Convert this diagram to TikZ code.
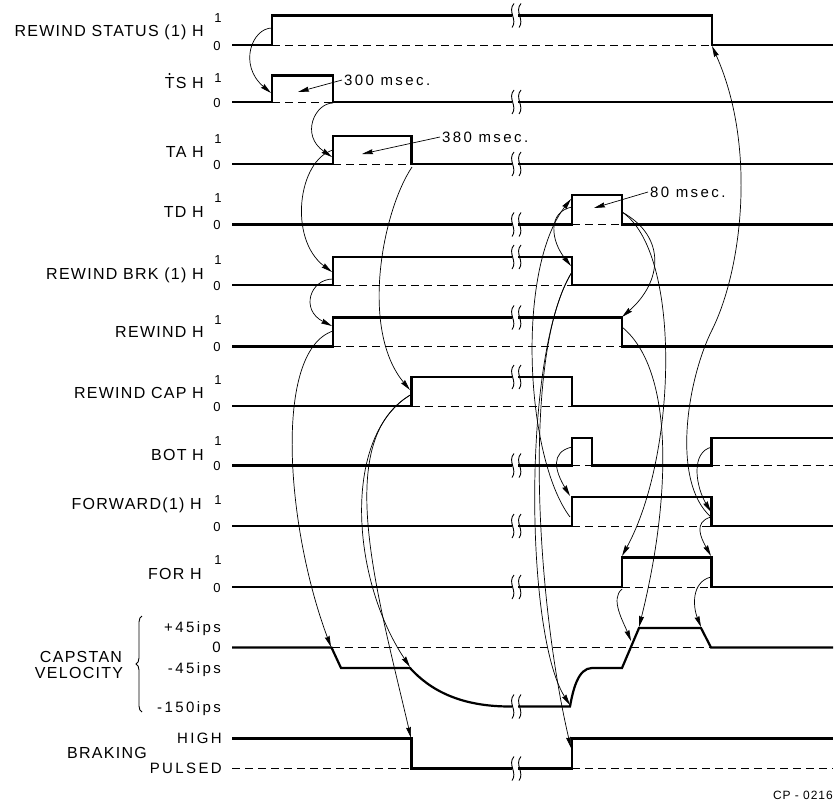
\documentclass[tikz,border=0pt]{standalone}
\usepackage{fontspec}
\setmainfont{Liberation Sans}
\newfontfamily\lblfont{Liberation Sans}[LetterSpace=8]
\newfontfamily\notefont{Liberation Sans}[LetterSpace=16]
\usetikzlibrary{arrows.meta,decorations.pathreplacing}

\tikzset{
  sig/.style={line width=2.2pt},
  cero/.style={line width=1pt, dash pattern=on 8pt off 5pt},
  conn/.style={line width=0.7pt, -{Stealth[length=11pt,width=5pt,inset=1pt]}},
  lbl/.style={font=\lblfont\fontsize{16}{18}\selectfont, anchor=base east, inner sep=0pt},
  lvl/.style={font=\lblfont\fontsize{13}{15}\selectfont, inner sep=0pt},
  vel/.style={font=\notefont\fontsize{15}{17}\selectfont, anchor=base east, inner sep=0pt},
  nota/.style={font=\notefont\fontsize{15}{17}\selectfont, anchor=west, inner sep=2pt}
}

% marca de corte
\newcommand\corte[2]{%
  \fill[white] (#1-3,#2-3) rectangle (#1+3,#2+3);
  \draw[line width=0.9pt] (#1-1,#2-12) .. controls (#1-8,#2-4) and (#1+3,#2+4) .. (#1-3,#2+12);
  \draw[line width=0.9pt] (#1+6,#2-12) .. controls (#1-1,#2-4) and (#1+10,#2+4) .. (#1+4,#2+12);
}

\begin{document}
\begin{tikzpicture}[x=1pt,y=-1pt]
    \useasboundingbox (0,0) rectangle (835,803);
    % Nombres de las senales
    \node[lbl] (rsL) at (204,36.5) {REWIND STATUS (1) H};
    \node[lbl] (tsL) at (204,88.5) {TS H};
    \fill ([xshift=5pt,yshift=14.5pt]tsL.base west) circle (1.1pt); % punto sobre la T
    \node[lbl] (taL) at (204,157.5) {TA H};
    \node[lbl] (tdL) at (204,217.5) {TD H};
    \node[lbl] (rbL) at (204,279.5) {REWIND BRK (1) H};
    \node[lbl] (rwL) at (204,337.5) {REWIND H};
    \node[lbl] (rcL) at (204,398.5) {REWIND CAP H};
    \node[lbl] (btL) at (204,460.5) {BOT H};
    \node[lbl] (fwL) at (202,509.5) {FORWARD(1) H};
    \node[lbl] (foL) at (202,579.5) {FOR H};
    % Niveles 1 y 0
    \foreach \hi/\lo [count=\i] in {15.5/45,75.5/102,136/164,195/224.5,257/285,317.5/346.5,377/406,438/465.5,497/526,557.5/587}{
        \node[lvl] (uno\i) at (218,\hi+3) {1};
        \node[lvl] (cero\i) at (217,\lo+1) {0};
    }

    % REWIND STATUS
    \draw[sig] (232,45) -- (272,45) -- (272,15.5) -- (712,15.5) -- (712,45) -- (833,45);
    \draw[cero] (272,45) -- (712,45);
    % TS
    \draw[sig] (232,102) -- (272,102) -- (272,75.5) -- (333,75.5) -- (333,102) -- (833,102);
    \draw[cero] (272,102) -- (333,102);
    % TA
    \draw[sig] (232,164) -- (333,164) -- (333,136) -- (411.5,136) -- (411.5,164) -- (833,164);
    \draw[cero] (333,164) -- (411.5,164);
    % TD
    \draw[sig] (232,224.5) -- (572,224.5) -- (572,195) -- (622,195) -- (622,224.5) -- (833,224.5);
    \draw[cero] (572,224.5) -- (622,224.5);
    % REWIND BRK
    \draw[sig] (232,285) -- (333,285) -- (333,257) -- (572,257) -- (572,285) -- (833,285);
    \draw[cero] (333,285) -- (572,285);
    % REWIND
    \draw[sig] (232,346.5) -- (333,346.5) -- (333,317.5) -- (622,317.5) -- (622,346.5) -- (833,346.5);
    \draw[cero] (333,346.5) -- (622,346.5);
    % REWIND CAP
    \draw[sig] (232,406) -- (411.5,406) -- (411.5,377) -- (572,377) -- (572,406) -- (833,406);
    \draw[cero] (411.5,406) -- (572,406);
    % BOT
    \draw[sig] (232,465.5) -- (572,465.5) -- (572,438) -- (592,438) -- (592,465.5) -- (711.5,465.5) -- (711.5,438) -- (833,438);
    \draw[cero] (572,465.5) -- (592,465.5);
    \draw[cero] (711.5,465.5) -- (833,465.5);
    % FORWARD (1)
    \draw[sig] (232,526) -- (572,526) -- (572,497) -- (711.5,497) -- (711.5,526) -- (833,526);
    \draw[cero] (572,526) -- (711.5,526);
    % FOR
    \draw[sig] (232,587) -- (622,587) -- (622,557.5) -- (711.5,557.5) -- (711.5,587) -- (833,587);
    \draw[cero] (622,587) -- (711.5,587);

    % Velocidad del cabrestante
    \draw[decorate, decoration={brace, amplitude=6pt}, line width=0.9pt] (142,712) -- (142,616);
    \node[font=\lblfont\fontsize{16}{18}\selectfont] (capL) at (81,657) {CAPSTAN};
    \node[font=\lblfont\fontsize{16}{18}\selectfont] (velL) at (79,673) {VELOCITY};
    \node[vel] (v45p) at (221,632.5) {+45ips};
    \node[vel] (v0) at (221,652.5) {0};
    \node[vel] (v45m) at (221,673.5) {-45ips};
    \node[vel] (v150) at (221,712) {-150ips};
    \draw[sig] (232,647.5) -- (331.5,647.5) -- (341,668) -- (410,668)
        .. controls (430,690) and (460,706.5) .. (510,706.5) -- (570,706.5)
        .. controls (573,690) and (578,668) .. (592,668) -- (622,668) -- (639,628)
        -- (701,628) -- (711,647.5) -- (833,647.5);
    \draw[cero] (331.5,647.5) -- (711,647.5);

    % Frenado
    \node[font=\lblfont\fontsize{16}{18}\selectfont] (bkL) at (107,753) {BRAKING};
    \node[vel] (hiL) at (222,743.5) {HIGH};
    \node[vel] (puL) at (222,773.5) {PULSED};
    \draw[sig] (232,738.5) -- (411.5,738.5) -- (411.5,768.5) -- (572,768.5) -- (572,738.5) -- (833,738.5);
    \draw[cero] (232,768.5) -- (411.5,768.5);
    \draw[cero] (572,768.5) -- (833,768.5);

    % Cortes
    \corte{515}{15.5} \corte{515}{102} \corte{515}{164} \corte{515}{224.5}
    \corte{515}{257} \corte{515}{317.5} \corte{515}{377} \corte{515}{465.5}
    \corte{515}{526} \corte{515}{587} \corte{515}{706.5} \corte{515}{768.5}

    % Tiempos
    \node[nota] (t300) at (342,80) {300 msec.};
    \node[nota] (t380) at (440,137) {380 msec.};
    \node[nota] (t80) at (648,192) {80 msec.};
    \draw[conn] (t300.west) -- (298,92);
    \draw[conn] (t380.west) -- (362,154);
    \draw[conn] (t80.west) -- (594,208);

    % Puntos de los flancos
    \coordinate (rsA) at (272,28);   \coordinate (rsB) at (712,46);
    \coordinate (tsA) at (271,93);   \coordinate (tsB) at (333,103);
    \coordinate (taIn) at (332,157); \coordinate (taOut) at (333,150);
    \coordinate (taB) at (412,167);
    \coordinate (tdIn) at (571,199); \coordinate (tdOut) at (572,207);
    \coordinate (tdB) at (622,212);
    \coordinate (rbIn) at (332,272); \coordinate (rbOut) at (333,279);
    \coordinate (rbB) at (571,266);  \coordinate (rbBo) at (572,272);
    \coordinate (rwIn) at (332,326); \coordinate (rwOut) at (333,331);
    \coordinate (rwB) at (622,317);  \coordinate (rwBo) at (622,327);
    \coordinate (rcIn) at (410,390); \coordinate (rcOut) at (412,394);
    \coordinate (btA) at (572,447);  \coordinate (btB) at (712,447);
    \coordinate (fwIn) at (570,496); \coordinate (fwOut) at (570,517);
    \coordinate (fwB) at (711,512);  \coordinate (fwBo) at (711,517);
    \coordinate (foIn) at (622,556); \coordinate (foOut) at (622,589);
    \coordinate (foB) at (711,556);  \coordinate (foBo) at (711,577);
    \coordinate (cvA) at (331,647);  \coordinate (cvB) at (410,667);
    \coordinate (cvC) at (570,705);  \coordinate (cvD) at (631,641);
    \coordinate (cvE) at (639,627);  \coordinate (cvF) at (701,627);
    \coordinate (bkA) at (411,738);  \coordinate (bkB) at (571,748);
    \coordinate (via) at (712,330);

    % Flechas de causa
    \draw[conn] (rsA) .. controls +(-20,0) and +(-33,-28) .. (tsA);
    \draw[conn] (tsB) .. controls +(-18,0) and +(-32,-22) .. (taIn);
    \draw[conn] (taOut) .. controls +(-35,10) and +(-44,-33) .. (rbIn);
    \draw[conn] (rbOut) .. controls +(-23,0) and +(-32,-16) .. (rwIn);
    \draw[conn] (rwOut) .. controls +(-60,20) and +(-45,-120) .. (cvA);
    \draw[conn] (taB) .. controls +(-30,45) and +(-50,-60) .. (rcIn);
    \draw[conn] (rcOut) .. controls +(-70,40) and +(-60,-90) .. (cvB);
    \draw[conn] (rcOut) .. controls +(-80,45) and +(-35,-150) .. (bkA);
    \draw[conn] (fwOut) .. controls +(-45,-60) and +(-55,70) .. (tdIn);
    \draw[conn] (tdOut) .. controls +(-25,5) and +(-20,-25) .. (rbB);
    \draw[conn] (rbBo) .. controls +(-50,80) and +(-45,-70) .. (cvC);
    \draw[conn] (rbBo) .. controls +(-50,80) and +(-35,-150) .. (bkB);
    \draw[conn] (tdB) .. controls +(45,25) and +(40,-35) .. (rwB);
    \draw[conn] (tdB) .. controls +(60,40) and +(55,-100) .. (foIn);
    \draw[conn] (rwBo) .. controls +(55,45) and +(30,-120) .. (cvE);
    \draw[conn] (btA) .. controls +(-22,5) and +(-15,-25) .. (fwIn);
    \draw[conn] (btB) .. controls +(-22,5) and +(-15,-25) .. (fwB);
    \draw[conn] (fwBo) .. controls +(-40,-35) and +(-25,50) .. (via)
        .. controls +(30,-60) and +(45,100) .. (rsB);
    \draw[conn] (fwBo) .. controls +(-18,5) and +(-10,-18) .. (foB);
    \draw[conn] (foBo) .. controls +(-20,5) and +(-8,-20) .. (cvF);
    \draw[conn] (foOut) .. controls +(-12,10) and +(-8,-20) .. (cvD);

    % Referencia
    \node[font=\lblfont\fontsize{12}{14}\selectfont, anchor=base east, inner sep=0pt] (cp) at (833,799) {CP - 0216};
\end{tikzpicture}
\end{document}
